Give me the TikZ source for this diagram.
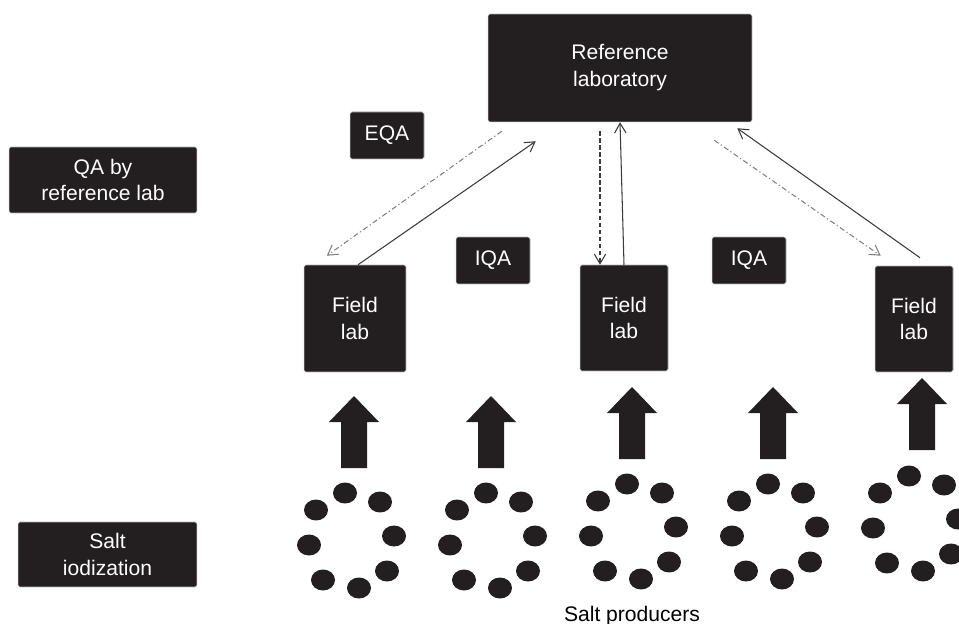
\documentclass[tikz,border=0pt]{standalone}
\usepackage{fontspec}
\setmainfont{Liberation Sans}
\usetikzlibrary{arrows.meta,calc}

\definecolor{boxfill}{HTML}{231F20}
\definecolor{linegray}{HTML}{3A3A3A}
\definecolor{dotgray}{HTML}{808080}

\tikzset{
  box/.style={fill=boxfill, draw=gray!60, line width=0.3pt, rounded corners=1pt, text=white, align=center, inner sep=0pt, font=\fontsize{12}{15.3}\selectfont},
  link/.style={draw=linegray, line width=0.6pt, -{Straight Barb[length=5.5pt,width=6.5pt]}},
  dashlink/.style={link, dash pattern=on 2.5pt off 1.5pt},
  dotlink/.style={link, draw=dotgray, dash pattern=on 3pt off 1.5pt on 0.7pt off 1.5pt},
}

\begin{document}
\begin{tikzpicture}[x=0.02cm, y=-0.02cm]
\useasboundingbox (0,0) rectangle (959,624);

\node[box, minimum width=5.28cm, minimum height=2.16cm] (reflab) at (620,68) {Reference\\laboratory};
\node[box, minimum width=1.48cm, minimum height=0.94cm] (eqa) at (387,135.5) {EQA};
\node[box, minimum width=3.76cm, minimum height=1.32cm] (qabox) at (103,180) {QA by\\reference lab};
\node[box, minimum width=1.48cm, minimum height=0.94cm] (iqaA) at (493,260.5) {IQA};
\node[box, minimum width=1.48cm, minimum height=0.94cm] (iqaB) at (749,260.5) {IQA};

\node[box, minimum width=2.04cm, minimum height=2.14cm] (fieldA) at (355,318.5) {Field\\lab};
\node[box, minimum width=1.76cm, minimum height=2.12cm] (fieldB) at (624,318) {Field\\lab};
\node[box, minimum width=1.56cm, minimum height=2.12cm] (fieldC) at (914,319) {Field\\lab};

\node[box, minimum width=3.58cm, minimum height=1.30cm] (saltbox) at (107.5,554.5) {Salt\\iodization};
\node[anchor=base, font=\fontsize{12}{15.3}\selectfont] (producers) at (632,621) {Salt producers};

\draw[dotlink] ($(reflab.south west)+(14,9)$) -- ($(fieldA.north west)+(23,-9)$);
\draw[link] ($(fieldA.north)+(3,0)$) -- ($(reflab.south west)+(48,19)$);
\draw[dashlink] ($(reflab.south)+(-20,9)$) -- ($(fieldB.north)+(-24,0)$);
\draw[link] (fieldB.north) -- (reflab.south);
\draw[dotlink] ($(reflab.south east)+(-38,18)$) -- ($(fieldC.north west)+(6,-10)$);
\draw[link] ($(fieldC.north)+(6,-8)$) -- ($(reflab.south east)+(-15,6)$);

% thick arrows
\foreach \x/\t in {354/396, 491/396, 632/387, 773/387, 922/378}
  \fill[boxfill] (\x,\t) -- ++(25,26) -- ++(-12,0) -- ++(0,46) -- ++(-26,0) -- ++(0,-46) -- ++(-12,0) -- cycle;

% producers
\foreach \cx/\cy in {352/540, 493/540, 634/531, 775/531, 916/523}
  \foreach \dx/\dy in {-7/-47, 28/-38, -36/-30, 42/-4, -43/5, 35/31, -29/40, 7/48}
    \fill[boxfill] (\cx+\dx,\cy+\dy) ellipse [x radius=0.24cm, y radius=0.21cm];

\end{tikzpicture}
\end{document}
